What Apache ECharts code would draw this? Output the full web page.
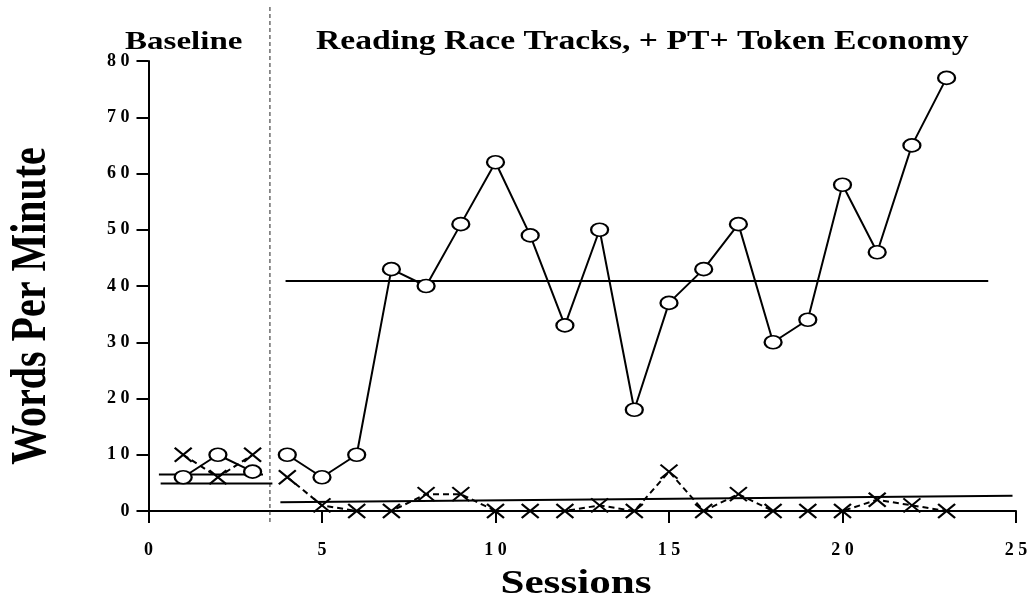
<!DOCTYPE html>
<html>
<head>
<meta charset="utf-8">
<script src="https://cdn.jsdelivr.net/npm/echarts@6/dist/echarts.min.js"></script>
<style>html,body{margin:0;padding:0;background:#fff;}#c{width:1036px;height:608px;}</style>
</head>
<body>
<div id="c"></div>
<script>
// ---- data ----
var baselineSessions = [1, 2, 3];
var treatmentSessions = [4,5,6,7,8,9,10,11,12,13,14,15,16,17,18,19,20,21,22,23];
var circlesBaseline = [6, 10, 7];
var circlesTreatment = [10, 6, 10, 43, 40, 51, 62, 49, 33, 50, 18, 37, 43, 51, 30, 34, 58, 46, 65, 77];
var crossesBaseline = [10, 6, 10];
var crossesTreatment = [6, 1, 0, 0, 3, 3, 0, 0, 0, 1, 0, 7, 0, 3, 0, 0, 0, 2, 1, 0];
// level / trend lines: [xStart, xEnd], [yStart, yEnd]
var baseLineUpperX = [0.3, 3.3], baseLineUpperY = [6.5, 6.5];
var baseLineLowerX = [0.35, 3.57], baseLineLowerY = [4.9, 4.9];
var treatCircleLineX = [3.95, 24.2], treatCircleLineY = [40.9, 40.9];
var treatCrossLineX = [3.8, 24.9], treatCrossLineY = [1.55, 2.7];
var phaseChangeX = 3.5;
var yTickLabels = ['0', '1 0', '2 0', '3 0', '4 0', '5 0', '6 0', '7 0', '8 0'];
var xTickLabels = ['0', '5', '1 0', '1 5', '2 0', '2 5'];
var phaseTitles = ['Baseline', 'Reading Race Tracks, + PT+ Token Economy'];
var xAxisTitle = 'Sessions';
var yAxisTitle = 'Words Per Minute';

function pairs(xs, ys) { return xs.map(function (x, i) { return [x, ys[i]]; }); }

var FONT = '"Liberation Serif", "Times New Roman", serif';
var STRETCH = 1.27;
var circleSym = { symbol: 'circle', symbolSize: [17, 13],
  itemStyle: { color: '#fff', borderColor: '#000', borderWidth: 2 } };
var crossSym = { symbol: 'path://M0,0L17,14M17,0L0,14', symbolSize: [17, 14],
  itemStyle: { color: 'none', borderColor: '#000', borderWidth: 2 } };

function dataSeries(xs, ys, sym, dashed, z) {
  return Object.assign({
    type: 'line', xAxisIndex: 0, yAxisIndex: 0, data: pairs(xs, ys),
    lineStyle: { color: '#000', width: 2, type: dashed ? [6, 4] : 'solid' },
    animation: false, z: z, clip: false
  }, JSON.parse(JSON.stringify(sym)));
}
function levelLine(xs, ys) {
  return { type: 'line', xAxisIndex: 0, yAxisIndex: 0, data: pairs(xs, ys), symbol: 'none',
    lineStyle: { color: '#000', width: 2 }, animation: false, z: 2, clip: false };
}
function label(text, x, y, size, opts) {
  return Object.assign({
    type: 'text', x: x, y: y, scaleX: STRETCH, z: 10,
    style: { text: text, font: 'bold ' + size + 'px ' + FONT, fill: '#000',
      align: 'left', verticalAlign: 'middle' }
  }, opts || {});
}

var chart = echarts.init(document.getElementById('c'), null, { renderer: 'canvas' });
chart.setOption({
  backgroundColor: '#fff',
  animation: false,
  graphic: [
    label(phaseTitles[0], 125, 42, 26),
    label(phaseTitles[1], 316, 42, 26.5),
    { type: 'text', x: 576, y: 584, scaleX: STRETCH, z: 10,
      style: { text: xAxisTitle, font: 'bold 34px ' + FONT, fill: '#000', align: 'center', verticalAlign: 'middle' } },
    { type: 'text', x: 32, y: 306, rotation: Math.PI / 2, scaleY: STRETCH, z: 10,
      style: { text: yAxisTitle, font: 'bold 40px ' + FONT, fill: '#000', align: 'center', verticalAlign: 'middle' } }
  ],
  grid: [
    { left: 148.5, right: 20, top: 61, bottom: 97, outerBoundsMode: 'none', containLabel: false },
    { left: 148.5, right: 20, top: 4, bottom: 86, outerBoundsMode: 'none', containLabel: false }
  ],
  xAxis: [
    { type: 'value', gridIndex: 0, min: 0, max: 25, interval: 5, offset: 12.5,
      axisLine: { show: true, lineStyle: { color: '#000', width: 2 } },
      axisTick: { show: true, length: 12, lineStyle: { color: '#000', width: 2 } },
      axisLabel: { margin: 18, color: '#000', fontFamily: FONT, fontWeight: 'bold', fontSize: 18,
        formatter: function (v) { return xTickLabels[Math.round(v / 5)]; } },
      splitLine: { show: false } },
    { type: 'value', gridIndex: 1, min: 0, max: 25, show: false }
  ],
  yAxis: [
    { type: 'value', gridIndex: 0, min: 0, max: 80, interval: 10,
      axisLine: { show: true, lineStyle: { color: '#000', width: 2 } },
      axisTick: { show: true, length: 12, lineStyle: { color: '#000', width: 2 } },
      axisLabel: { margin: 19, color: '#000', fontFamily: FONT, fontWeight: 'bold', fontSize: 18,
        formatter: function (v) { return yTickLabels[Math.round(v / 10)]; } },
      splitLine: { show: false } },
    { type: 'value', gridIndex: 1, min: 0, max: 1, show: false }
  ],
  series: [
    { type: 'line', xAxisIndex: 1, yAxisIndex: 1, data: [[phaseChangeX, 0], [phaseChangeX, 1]],
      symbol: 'none', lineStyle: { color: '#222', width: 1, type: [4, 3] }, animation: false, z: 1 },
    levelLine(baseLineUpperX, baseLineUpperY),
    levelLine(baseLineLowerX, baseLineLowerY),
    levelLine(treatCircleLineX, treatCircleLineY),
    levelLine(treatCrossLineX, treatCrossLineY),
    dataSeries(baselineSessions, crossesBaseline, crossSym, true, 3),
    dataSeries(treatmentSessions, crossesTreatment, crossSym, true, 3),
    dataSeries(baselineSessions, circlesBaseline, circleSym, false, 4),
    dataSeries(treatmentSessions, circlesTreatment, circleSym, false, 4)
  ]
});
</script>
</body>
</html>
